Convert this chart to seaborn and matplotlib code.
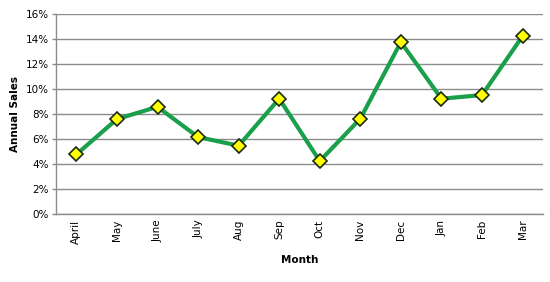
import matplotlib
matplotlib.use("Agg")
import matplotlib.pyplot as plt
import seaborn as sns
import pandas as pd
from matplotlib.ticker import PercentFormatter

months = ["April", "May", "June", "July", "Aug", "Sep", "Oct", "Nov", "Dec", "Jan", "Feb", "Mar"]
sales = [4.77, 7.6, 8.58, 6.16, 5.47, 9.23, 4.24, 7.63, 13.76, 9.23, 9.52, 14.24]
y_ticks = [0, 2, 4, 6, 8, 10, 12, 14, 16]

df = pd.DataFrame({"Month": months, "Annual Sales": sales})
df["pos"] = range(len(months))

sns.set_theme(style="white")
plt.rcParams["font.family"] = ["DejaVu Sans"]
plt.rcParams["text.color"] = "black"
plt.rcParams["axes.labelcolor"] = "black"
plt.rcParams["xtick.color"] = "black"
plt.rcParams["ytick.color"] = "black"

fig = plt.figure(figsize=(5.5, 2.82), dpi=100)
ax = fig.add_axes([0.102, 0.241, 0.885, 0.709])

sns.lineplot(data=df, x="pos", y="Annual Sales", ax=ax, color="#1a9f4b", linewidth=3,
             marker="D", markersize=7.5, markerfacecolor="#ffff00", markeredgecolor="#1a2a10",
             markeredgewidth=1.2, zorder=3)

ax.set_xlim(-0.5, len(months) - 0.5)
ax.set_ylim(0, 16)
ax.set_yticks(y_ticks)
ax.yaxis.set_major_formatter(PercentFormatter(decimals=0))
ax.set_xticks(df["pos"])
ax.set_xticklabels(months, rotation=90, fontsize=7.5)
ax.tick_params(axis="y", labelsize=7.5, length=3, width=1, color="#8c8c8c", labelcolor="black", pad=2, left=True)
ax.tick_params(axis="x", length=0, pad=4, labelcolor="black")
ax.grid(axis="y", color="#8c8c8c", linewidth=1)
ax.set_axisbelow(True)
for s in ["top", "right"]:
    ax.spines[s].set_visible(False)
for s in ["left", "bottom"]:
    ax.spines[s].set_color("#8c8c8c")
    ax.spines[s].set_linewidth(1)
ax.set_xlabel("Month", fontsize=7.5, fontweight="bold", labelpad=8)
ax.set_ylabel("Annual Sales", fontsize=7.5, fontweight="bold", labelpad=4)

fig.savefig("out.png", dpi=100)
